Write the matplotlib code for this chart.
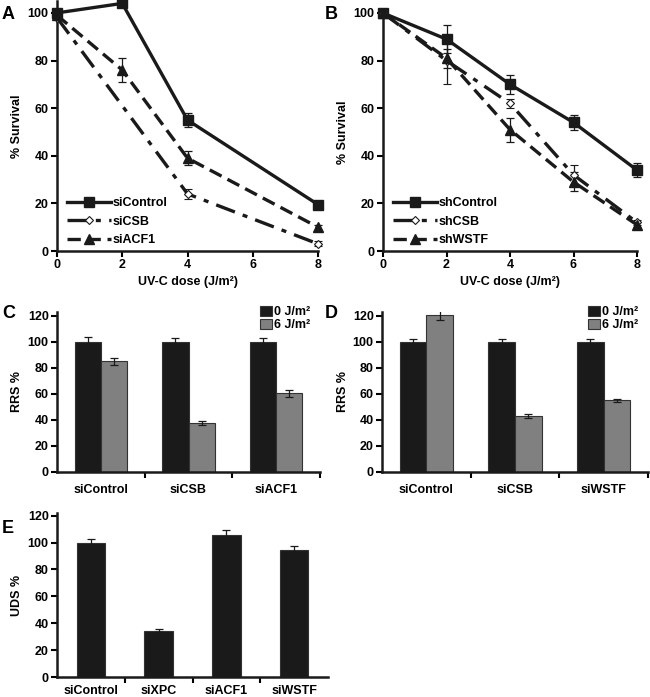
import matplotlib
matplotlib.use("Agg")
import matplotlib.pyplot as plt
import numpy as np

plt.rcParams['font.family'] = ['Liberation Sans', 'DejaVu Sans']
plt.rcParams['font.weight'] = 'bold'
plt.rcParams['axes.labelweight'] = 'bold'
plt.rcParams['font.size'] = 9

# ---- data ----
doses_a = [0, 2, 4, 8]
a_sicontrol = [100, 104, 55, 19.5]
a_sicontrol_err = [0, 1.5, 3, 1]
a_sicsb = [98, np.nan, 24, 3]
a_sicsb_err = [0, 0, 2, 1]
a_siacf1 = [99, 76, 39, 10]
a_siacf1_err = [0, 5, 3, 1]

doses_b = [0, 2, 4, 6, 8]
b_shcontrol = [100, 89, 70, 54, 34]
b_shcontrol_err = [0, 6, 4, 3, 3]
b_shcsb = [100, 80, 62, 32, 12]
b_shcsb_err = [0, 10, 2, 4, 1]
b_shwstf = [100, 81, 51, 29, 11]
b_shwstf_err = [0, 4, 5, 4, 1]

c_labels = ['siControl', 'siCSB', 'siACF1']
c_0j = [100, 100, 100]
c_0j_err = [4, 3, 3]
c_6j = [85, 38, 60.5]
c_6j_err = [3, 1.5, 2.5]

d_labels = ['siControl', 'siCSB', 'siWSTF']
d_0j = [100, 100, 100]
d_0j_err = [2.5, 2, 2.5]
d_6j = [121, 43, 55]
d_6j_err = [4, 1.5, 1.5]

e_labels = ['siControl', 'siXPC', 'siACF1', 'siWSTF']
e_uds = [100, 34.5, 105.5, 94.5]
e_uds_err = [2.5, 1, 3.5, 3]

DARK = '#1a1a1a'
GREY = '#808080'
FS = 9

W, H = 650, 697
fig = plt.figure(figsize=(6.5, 6.97), dpi=100)


def axes_px(x0, x1, ytop, ybot):
    return fig.add_axes([x0 / W, (H - ybot) / H, (x1 - x0) / W, (ybot - ytop) / H])


def style(ax):
    for s in ['top', 'right']:
        ax.spines[s].set_visible(False)
    for s in ['left', 'bottom']:
        ax.spines[s].set_linewidth(1.8)
        ax.spines[s].set_color(DARK)
    ax.tick_params(width=1.5, length=4, direction='out', labelsize=FS, pad=2)
    for t in ax.get_xticklabels() + ax.get_yticklabels():
        t.set_fontweight('bold')


def survival(ax, series):
    styles = [
        dict(ls='-', marker='s', ms=6.5, mfc=DARK, mec=DARK),
        dict(ls=(0, (6, 2.5, 1.5, 2.5)), marker='D', ms=4.5, mfc='white', mec=DARK, mew=0.8),
        dict(ls=(0, (4, 2)), marker='^', ms=6.5, mfc=DARK, mec=DARK),
    ]
    for (xs, ys, es, lab), st in zip(series, styles):
        xs = np.array(xs, float)
        ys = np.array(ys, float)
        m = ~np.isnan(ys)
        ax.errorbar(xs[m], ys[m], yerr=np.array(es)[m], color=DARK, lw=2.4,
                    elinewidth=0.9, capsize=3, capthick=0.9, label=lab,
                    clip_on=False, zorder=3, **st)
    ax.set_xlim(0, 8)
    ax.set_xticks([0, 2, 4, 6, 8])
    ax.set_yticks([0, 20, 40, 60, 80, 100])
    ax.set_xlabel('UV-C dose (J/m²)', fontsize=FS, labelpad=3)
    ax.set_ylabel('% Survival', fontsize=FS, labelpad=3)
    handles, labels = ax.get_legend_handles_labels()
    handles = [h[0] for h in handles]
    ax.legend(handles, labels, loc='lower left', frameon=False, fontsize=FS,
              handlelength=3.5, handletextpad=0.1, labelspacing=0.5,
              borderaxespad=0.0, bbox_to_anchor=(0.02, 0.0))
    style(ax)


# ---- A ----
axA = axes_px(57, 318, 1, 251)
survival(axA, [
    (doses_a, a_sicontrol, a_sicontrol_err, 'siControl'),
    (doses_a, a_sicsb, a_sicsb_err, 'siCSB'),
    (doses_a, a_siacf1, a_siacf1_err, 'siACF1'),
])
axA.set_ylim(0, 105)

# ---- B ----
axB = axes_px(383, 637, 13, 251)
survival(axB, [
    (doses_b, b_shcontrol, b_shcontrol_err, 'shControl'),
    (doses_b, b_shcsb, b_shcsb_err, 'shCSB'),
    (doses_b, b_shwstf, b_shwstf_err, 'shWSTF'),
])
axB.set_ylim(0, 100)


def rrs(ax, labels, v0, e0, v6, e6):
    x = np.arange(len(labels))
    w = 0.3
    ax.bar(x - w / 2, v0, w, yerr=e0, color=DARK, edgecolor='#333333', lw=0.8,
           error_kw=dict(elinewidth=0.9, capsize=3, capthick=0.9, ecolor=DARK),
           label='0 J/m²')
    ax.bar(x + w / 2, v6, w, yerr=e6, color=GREY, edgecolor='#333333', lw=0.8,
           error_kw=dict(elinewidth=0.9, capsize=3, capthick=0.9, ecolor=DARK),
           label='6 J/m²')
    ax.set_xlim(-0.5, len(labels) - 0.5)
    ax.set_ylim(0, 123)
    ax.set_yticks(range(0, 121, 20))
    ax.set_xticks(x + 0.5)
    ax.set_xticklabels([])
    trans = matplotlib.transforms.blended_transform_factory(ax.transData, ax.transAxes)
    for xi, lab in zip(x, labels):
        ax.text(xi, -0.115, lab, transform=trans, ha='center', va='center',
                fontsize=FS, fontweight='bold')
    ax.set_ylabel('RRS %', fontsize=FS, labelpad=3)
    ax.legend(loc='upper right', frameon=False, fontsize=FS, handlelength=0.9,
              handleheight=0.9, handletextpad=0.15, labelspacing=0.05,
              borderaxespad=0.0, bbox_to_anchor=(0.98, 1.07))
    style(ax)


# ---- C ----
axC = axes_px(57, 320, 312, 472)
rrs(axC, c_labels, c_0j, c_0j_err, c_6j, c_6j_err)

# ---- D ----
axD = axes_px(382, 648, 312, 472)
rrs(axD, d_labels, d_0j, d_0j_err, d_6j, d_6j_err)

# ---- E ----
axE = axes_px(57, 328, 513, 677)
xe = np.arange(len(e_labels))
axE.bar(xe, e_uds, 0.42, yerr=e_uds_err, color=DARK, edgecolor='#333333', lw=0.8,
        error_kw=dict(elinewidth=0.9, capsize=3, capthick=0.9, ecolor=DARK))
axE.set_xlim(-0.5, len(e_labels) - 0.5)
axE.set_ylim(0, 122)
axE.set_yticks(range(0, 121, 20))
axE.set_xticks(xe)
axE.set_xticklabels(e_labels)
axE.set_ylabel('UDS %', fontsize=FS, labelpad=3)
style(axE)
axE.tick_params(axis='x', length=0, pad=6)
axE.set_xticks(xe[:-1] + 0.5, minor=True)
axE.tick_params(axis='x', which='minor', length=4, width=1.5)

# panel letters
for lab, (px, py) in zip('ABCDE', [(2, 6), (325, 6), (2, 305), (325, 305), (2, 520)]):
    fig.text(px / W, 1 - py / H, lab, fontsize=13, fontweight='bold', va='top', ha='left')

fig.savefig('out.png', dpi=100)
